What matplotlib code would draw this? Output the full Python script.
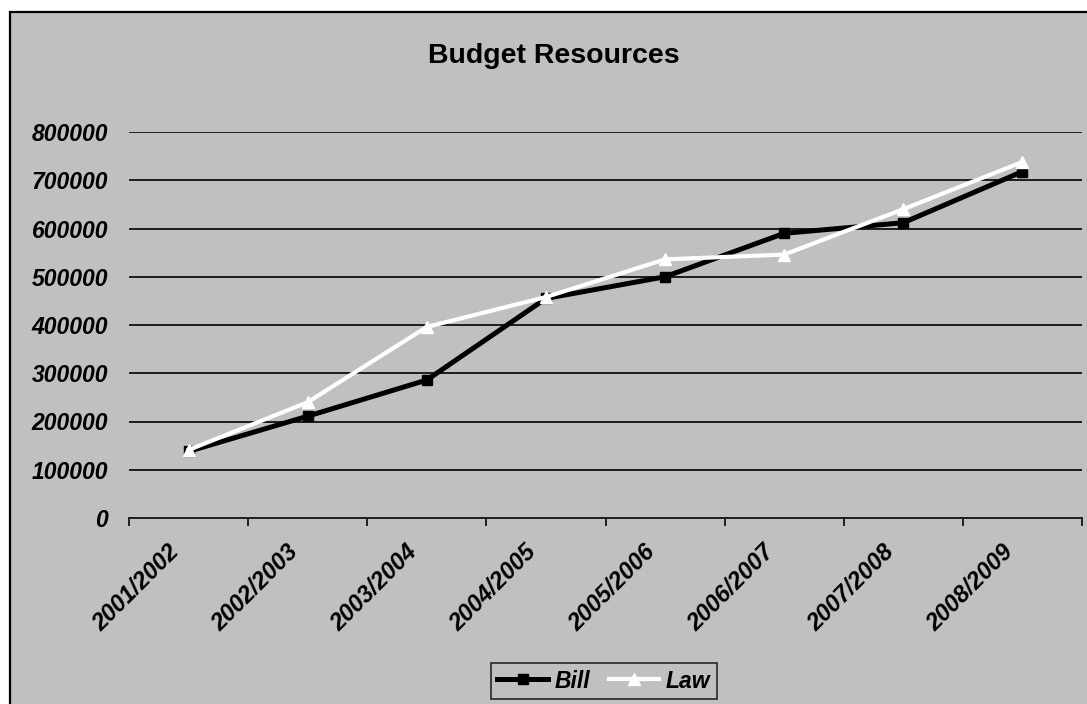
"""Budget resources per fiscal year: bill vs. enacted law."""

import matplotlib
matplotlib.use("Agg")
import matplotlib.pyplot as plt
import matplotlib.transforms as mtransforms
from matplotlib.patches import Rectangle
from matplotlib.ticker import FixedLocator

years = ["2001/2002", "2002/2003", "2003/2004", "2004/2005",
         "2005/2006", "2006/2007", "2007/2008", "2008/2009"]
bill = [138000, 211000, 286000, 455000, 500000, 590000, 612000, 718000]
law = [141000, 240000, 396000, 458000, 536000, 546000, 640000, 738000]

BG = "#C0C0C0"
plt.rcParams["font.family"] = ["Liberation Sans", "DejaVu Sans"]

fig = plt.figure(figsize=(10.87, 7.04), dpi=100)
fig.patch.set_facecolor("white")

# chart area frame (runs off the right and bottom edges)
frame = Rectangle((10 / 1087, -0.05), 1.2, 1.05 - 12 / 704,
                  transform=fig.transFigure, facecolor=BG, edgecolor="black",
                  linewidth=1.6, zorder=-10)
fig.patches.append(frame)

ax = fig.add_axes([129 / 1087, 1 - 518 / 704, (1082 - 129) / 1087, (518 - 132) / 704])
ax.set_zorder(1)
ax.set_facecolor(BG)

x = range(len(years))
ax.plot(x, bill, color="black", linewidth=3.6, marker="s", markersize=7,
        markerfacecolor="black", markeredgecolor="black", label="Bill", zorder=3)
ax.plot(x, law, color="white", linewidth=3.0, marker="^", markersize=9,
        markerfacecolor="white", markeredgecolor="white", label="Law", zorder=4)

ax.set_xlim(-0.5, len(years) - 0.5)
ax.set_ylim(0, 800000)
ax.set_yticks(range(0, 800001, 100000))
ax.yaxis.grid(True, color="black", linewidth=1.2)
ax.set_axisbelow(True)

for side in ("left", "right", "top"):
    ax.spines[side].set_visible(False)
ax.spines["bottom"].set_color("#202020")
ax.spines["bottom"].set_linewidth(1.4)

# category ticks sit between the years; labels are placed by hand, slanted
ax.set_xticks([])
ax.xaxis.set_minor_locator(FixedLocator([i - 0.5 for i in range(len(years) + 1)]))
ax.tick_params(axis="x", which="minor", length=6, width=1.4, color="#202020")
label_offset = mtransforms.ScaledTranslation(-0.13, -0.305, fig.dpi_scale_trans)
for i, year in enumerate(years):
    ax.text(i, 0, year, transform=ax.get_xaxis_transform() + label_offset,
            rotation=45, ha="right", va="center", rotation_mode="anchor",
            fontsize=17, fontweight="bold", fontstyle="italic", clip_on=False)

ax.tick_params(axis="y", length=0, pad=15)
for lbl in ax.get_yticklabels():
    lbl.set_fontsize(16.5)
    lbl.set_fontweight("bold")
    lbl.set_fontstyle("italic")

fig.text(554 / 1087, 1 - 56 / 704, "Budget Resources", ha="center", va="center",
         fontsize=20.5, fontweight="bold")

leg = fig.legend(loc="center", bbox_to_anchor=(604 / 1087, 1 - 681 / 704),
                 ncol=2, frameon=True, fancybox=False, facecolor=BG,
                 edgecolor="black", handlelength=2.2, handletextpad=0.3,
                 columnspacing=0.8, borderpad=0.3,
                 prop={"size": 16.5, "weight": "bold", "style": "italic"})
leg.get_frame().set_linewidth(1.2)

fig.savefig("out.png", dpi=100, facecolor=fig.get_facecolor())
